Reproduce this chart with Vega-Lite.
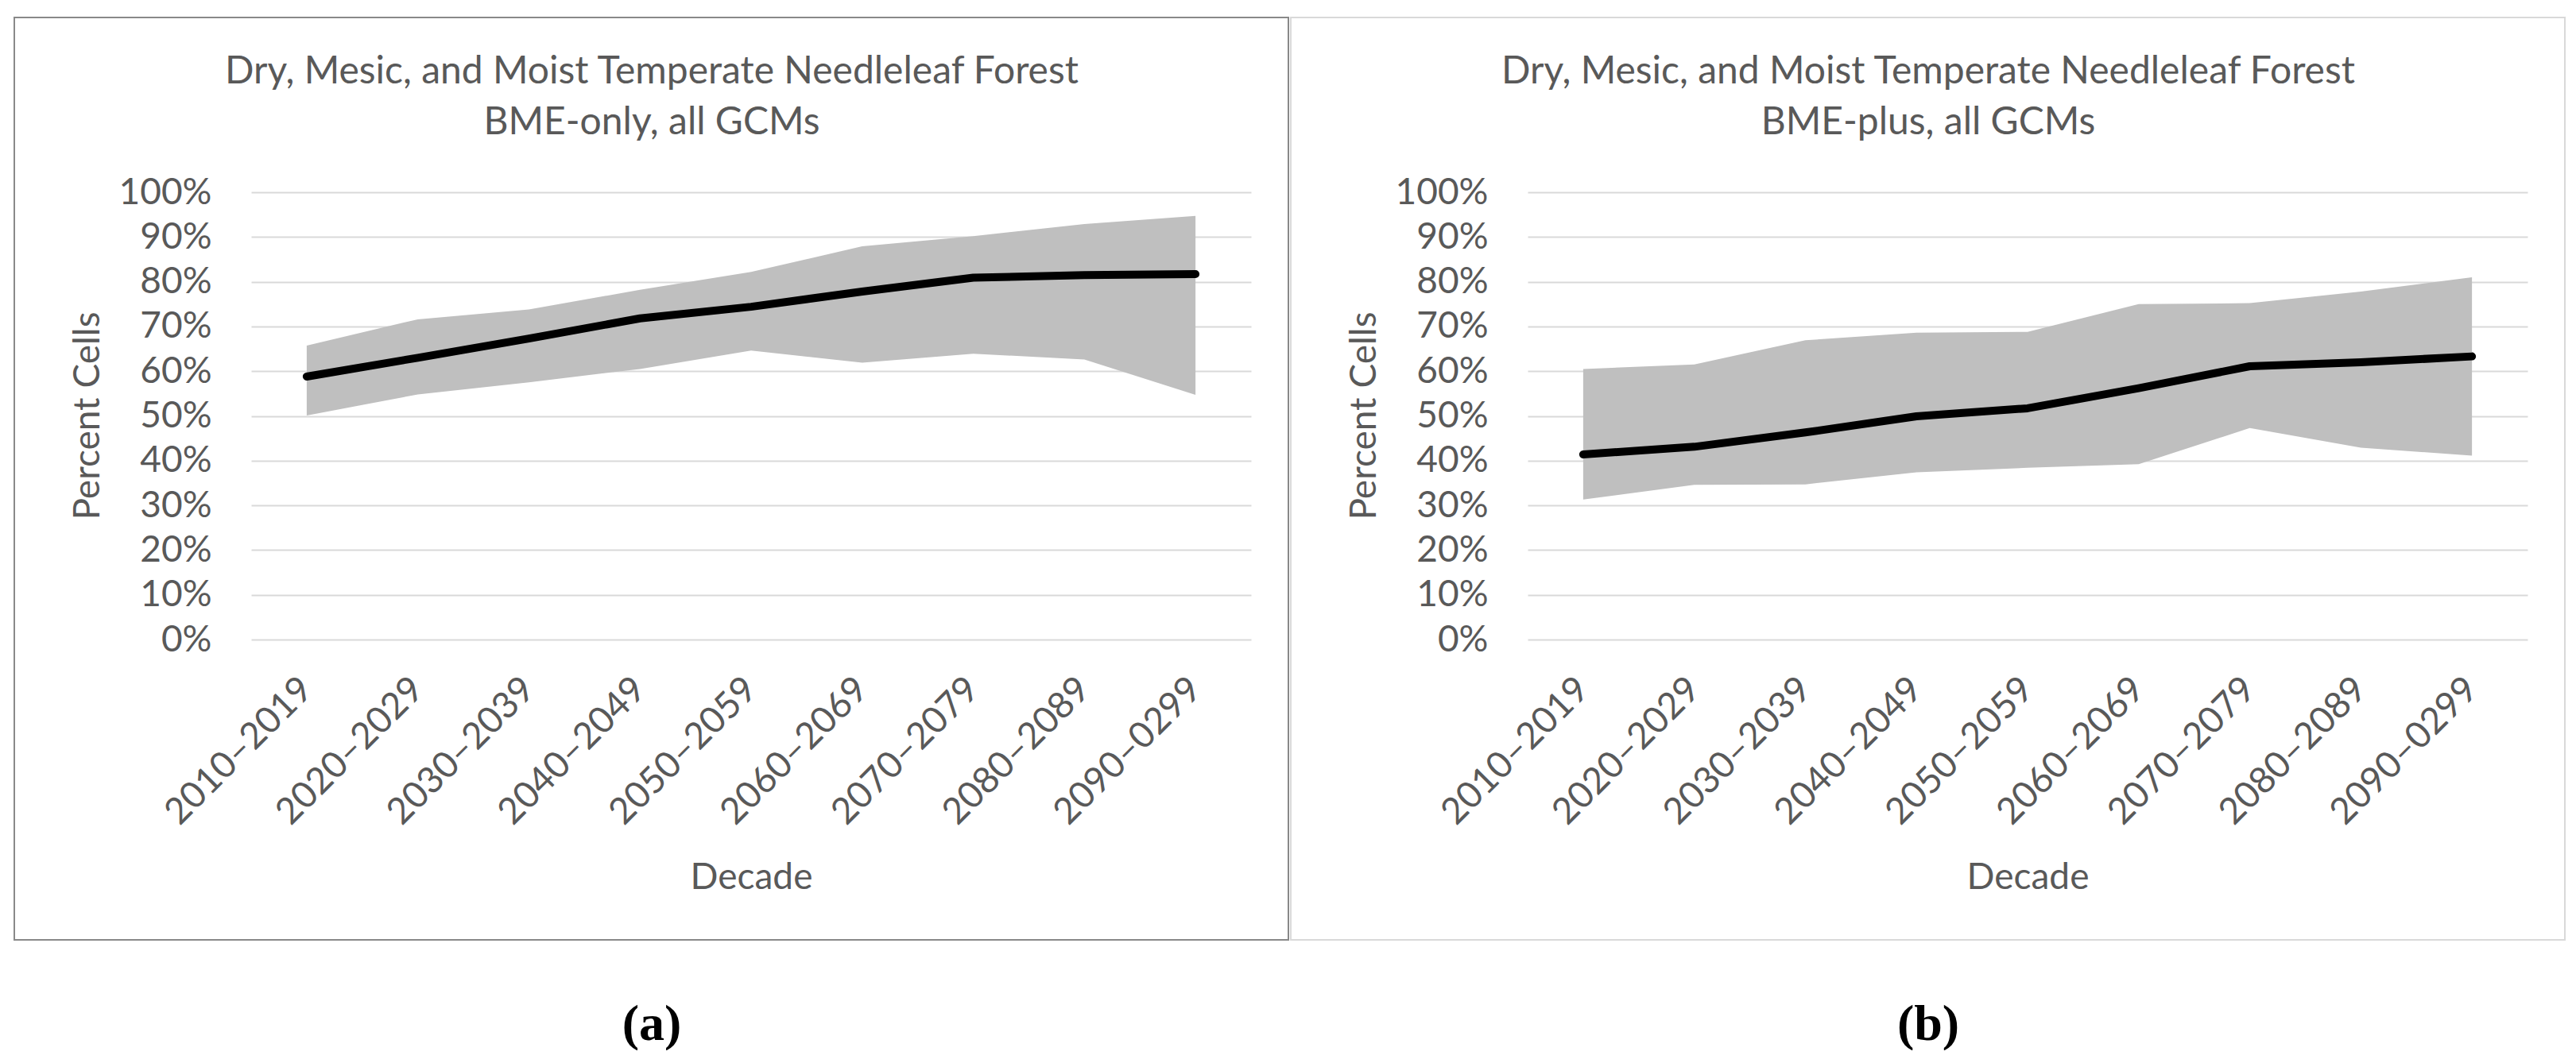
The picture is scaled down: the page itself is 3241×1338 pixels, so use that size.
{
  "$schema": "https://vega.github.io/schema/vega-lite/v6.json",
  "background": "white",
  "padding": {"left": 17, "top": 21, "right": 0, "bottom": 0},
  "autosize": {"type": "pad"},
  "datasets": {
    "bme_only": [
      {"decade": "2010–2019", "mean": 0.588, "lower": 0.501, "upper": 0.657},
      {"decade": "2020–2029", "mean": 0.630, "lower": 0.548, "upper": 0.716},
      {"decade": "2030–2039", "mean": 0.673, "lower": 0.575, "upper": 0.738},
      {"decade": "2040–2049", "mean": 0.718, "lower": 0.605, "upper": 0.782},
      {"decade": "2050–2059", "mean": 0.744, "lower": 0.646, "upper": 0.822},
      {"decade": "2060–2069", "mean": 0.778, "lower": 0.619, "upper": 0.879},
      {"decade": "2070–2079", "mean": 0.809, "lower": 0.639, "upper": 0.902},
      {"decade": "2080–2089", "mean": 0.815, "lower": 0.626, "upper": 0.929},
      {"decade": "2090–0299", "mean": 0.817, "lower": 0.547, "upper": 0.947}
    ],
    "bme_plus": [
      {"decade": "2010–2019", "mean": 0.414, "lower": 0.313, "upper": 0.605},
      {"decade": "2020–2029", "mean": 0.431, "lower": 0.346, "upper": 0.615},
      {"decade": "2030–2039", "mean": 0.463, "lower": 0.347, "upper": 0.669},
      {"decade": "2040–2049", "mean": 0.499, "lower": 0.374, "upper": 0.686},
      {"decade": "2050–2059", "mean": 0.517, "lower": 0.384, "upper": 0.688},
      {"decade": "2060–2069", "mean": 0.562, "lower": 0.392, "upper": 0.750},
      {"decade": "2070–2079", "mean": 0.611, "lower": 0.473, "upper": 0.752},
      {"decade": "2080–2089", "mean": 0.620, "lower": 0.429, "upper": 0.778},
      {"decade": "2090–0299", "mean": 0.633, "lower": 0.411, "upper": 0.810}
    ]
  },
  "spacing": 1,
  "hconcat": [
    {
      "width": 1603,
      "height": 1161,
      "view": {"stroke": "#898989", "strokeWidth": 2, "fill": "white"},
      "data": {"name": "bme_only"},
      "resolve": {"axis": {"x": "independent", "y": "independent"}},
      "layer": [
        {
          "mark": {"type": "area", "color": "#bfbfbf", "opacity": 1},
          "encoding": {
            "x": {
              "field": "decade", "type": "ordinal", "bandPosition": 0.5,
              "scale": {"type": "band", "domain": ["2010–2019", "2020–2029", "2030–2039", "2040–2049", "2050–2059", "2060–2069", "2070–2079", "2080–2089", "2090–0299"], "range": [298, 1556], "paddingInner": 0, "paddingOuter": 0},
              "axis": {"title": "Decade", "orient": "bottom", "offset": -378, "labelAngle": -45, "labelAlign": "right", "labelBaseline": "middle", "labelPadding": 55, "labelLimit": 500, "ticks": false, "tickSize": 0, "domain": false, "grid": false, "labelOverlap": false, "titleX": 927, "titleY": 313, "titleBaseline": "alphabetic", "titleAlign": "center"}
            },
            "y": {"field": "lower", "type": "quantitative",
              "scale": {"domain": [0, 1], "range": [783, 220], "nice": false, "zero": false},
              "axis": {"title": "Percent Cells", "orient": "left", "values": [0, 0.1, 0.2, 0.3, 0.4, 0.5, 0.6, 0.7, 0.8, 0.9, 1], "format": ".0%", "offset": -298, "labelPadding": 50, "ticks": false, "tickSize": 0, "domain": false, "grid": true, "gridColor": "#d9d9d9", "gridWidth": 2, "titleX": -192, "titleY": 501, "titleAngle": -90, "titleBaseline": "alphabetic", "titleAlign": "center"}},
            "y2": {"field": "upper"}
          }
        },
        {
          "mark": {"type": "line", "color": "#000000", "strokeWidth": 10, "strokeCap": "round", "strokeJoin": "round"},
          "encoding": {
            "x": {
              "field": "decade", "type": "ordinal", "bandPosition": 0.5,
              "scale": {"type": "band", "domain": ["2010–2019", "2020–2029", "2030–2039", "2040–2049", "2050–2059", "2060–2069", "2070–2079", "2080–2089", "2090–0299"], "range": [298, 1556], "paddingInner": 0, "paddingOuter": 0},
              "axis": {"title": ["Dry, Mesic, and Moist Temperate Needleleaf Forest", "BME-only, all GCMs"], "orient": "top", "labels": false, "ticks": false, "domain": false, "grid": false, "titleX": 801.5, "titleY": 82, "titleBaseline": "alphabetic", "titleAlign": "center", "titleLineHeight": 64, "titleFontSize": 48}
            },
            "y": {"field": "mean", "type": "quantitative",
              "scale": {"domain": [0, 1], "range": [783, 220], "nice": false, "zero": false},
              "axis": {"title": "(a)", "orient": "right", "labels": false, "ticks": false, "domain": false, "grid": false, "titleX": -801.5, "titleY": 1267, "titleAngle": 0, "titleBaseline": "middle", "titleAlign": "center", "titleFont": "Liberation Serif", "titleFontSize": 64, "titleFontWeight": "bold", "titleColor": "#000000"}
            }
          }
        }
      ]
    },
    {
      "width": 1603,
      "height": 1161,
      "view": {"stroke": "#d9d9d9", "strokeWidth": 2, "fill": "white"},
      "data": {"name": "bme_plus"},
      "resolve": {"axis": {"x": "independent", "y": "independent"}},
      "layer": [
        {
          "mark": {"type": "area", "color": "#bfbfbf", "opacity": 1},
          "encoding": {
            "x": {
              "field": "decade", "type": "ordinal", "bandPosition": 0.5,
              "scale": {"type": "band", "domain": ["2010–2019", "2020–2029", "2030–2039", "2040–2049", "2050–2059", "2060–2069", "2070–2079", "2080–2089", "2090–0299"], "range": [298, 1556], "paddingInner": 0, "paddingOuter": 0},
              "axis": {"title": "Decade", "orient": "bottom", "offset": -378, "labelAngle": -45, "labelAlign": "right", "labelBaseline": "middle", "labelPadding": 55, "labelLimit": 500, "ticks": false, "tickSize": 0, "domain": false, "grid": false, "labelOverlap": false, "titleX": 927, "titleY": 313, "titleBaseline": "alphabetic", "titleAlign": "center"}
            },
            "y": {"field": "lower", "type": "quantitative",
              "scale": {"domain": [0, 1], "range": [783, 220], "nice": false, "zero": false},
              "axis": {"title": "Percent Cells", "orient": "left", "values": [0, 0.1, 0.2, 0.3, 0.4, 0.5, 0.6, 0.7, 0.8, 0.9, 1], "format": ".0%", "offset": -298, "labelPadding": 50, "ticks": false, "tickSize": 0, "domain": false, "grid": true, "gridColor": "#d9d9d9", "gridWidth": 2, "titleX": -192, "titleY": 501, "titleAngle": -90, "titleBaseline": "alphabetic", "titleAlign": "center"}},
            "y2": {"field": "upper"}
          }
        },
        {
          "mark": {"type": "line", "color": "#000000", "strokeWidth": 10, "strokeCap": "round", "strokeJoin": "round"},
          "encoding": {
            "x": {
              "field": "decade", "type": "ordinal", "bandPosition": 0.5,
              "scale": {"type": "band", "domain": ["2010–2019", "2020–2029", "2030–2039", "2040–2049", "2050–2059", "2060–2069", "2070–2079", "2080–2089", "2090–0299"], "range": [298, 1556], "paddingInner": 0, "paddingOuter": 0},
              "axis": {"title": ["Dry, Mesic, and Moist Temperate Needleleaf Forest", "BME-plus, all GCMs"], "orient": "top", "labels": false, "ticks": false, "domain": false, "grid": false, "titleX": 801.5, "titleY": 82, "titleBaseline": "alphabetic", "titleAlign": "center", "titleLineHeight": 64, "titleFontSize": 48}
            },
            "y": {"field": "mean", "type": "quantitative",
              "scale": {"domain": [0, 1], "range": [783, 220], "nice": false, "zero": false},
              "axis": {"title": "(b)", "orient": "right", "labels": false, "ticks": false, "domain": false, "grid": false, "titleX": -801.5, "titleY": 1267, "titleAngle": 0, "titleBaseline": "middle", "titleAlign": "center", "titleFont": "Liberation Serif", "titleFontSize": 64, "titleFontWeight": "bold", "titleColor": "#000000"}
            }
          }
        }
      ]
    }
  ],
  "config": {
    "font": "Lato",
    "axis": {"labelFont": "Lato", "titleFont": "Lato", "labelFontSize": 46, "titleFontSize": 46, "labelColor": "#595959", "titleColor": "#595959", "titleFontWeight": "normal"}
  }
}
